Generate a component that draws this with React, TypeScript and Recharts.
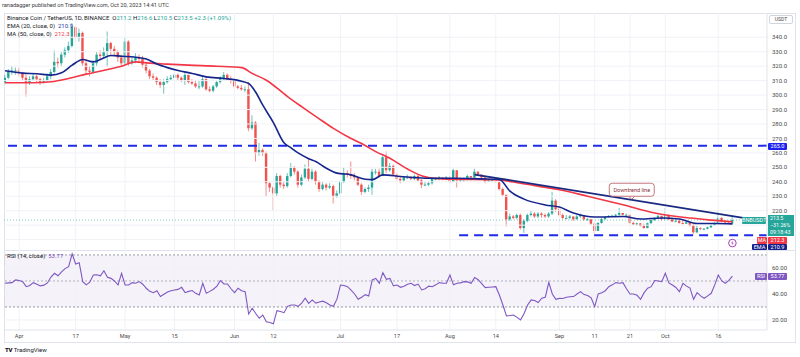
import React from 'react';
import {
  ComposedChart, Bar, Line, XAxis, YAxis, ReferenceLine, ReferenceArea, ReferenceDot,
} from 'recharts';

// ---------- DATA ----------
// daily candles, day 0 = Mar 28 2023 ... day 206 = Oct 20 2023
const firstOpen = 309;
const closes = [
  312, 316, 317, 317, 315, 312, 309, 311, 313, 311, 309, 310, 313, 316, 323, 322, 328, 331, 334, 347,
  340, 343, 322, 317, 316, 322, 328, 327, 330, 336, 332, 330, 326, 322, 337, 322, 324, 326, 325, 321,
  317, 313, 312, 309, 307, 309, 311, 312, 314, 312, 310, 314, 309, 308, 306, 306, 311, 304, 303, 306,
  309, 311, 314, 311, 310, 306, 305, 304, 304, 277, 281, 260, 262, 260, 239, 236, 232, 244, 238, 237,
  244, 250, 247, 238, 243, 249, 242, 247, 240, 235, 238, 236, 237, 230, 232, 240, 246, 245, 244, 243,
  238, 233, 235, 236, 247, 247, 244, 257, 248, 251, 245, 242, 241, 243, 243, 242, 244, 241, 238, 238,
  239, 242, 242, 243, 242, 243, 240, 248, 241, 242, 242, 244, 243, 247, 245, 243, 240, 241, 241, 240,
  235, 231, 214, 216, 215, 217, 208, 213, 217, 218, 216, 218, 217, 216, 218, 227, 221, 217, 215, 215,
  216, 214, 216, 217, 214, 214, 211, 206, 211.5, 214.2, 215.6, 216.1, 216.6, 217.2, 218.4, 217.2, 217.2, 211.5, 210.5, 211.2,
  209.5, 208, 211.3, 213.5, 215, 216.4, 214, 217, 214, 212.5, 213, 211.5, 211, 212, 209.7, 205, 208, 207.5, 207.5, 208.5,
  210, 211.3, 215, 212.5, 211.8, 211.2, 213.5,
];
const highs = [
  314, 318, 320, 319, 319, 316, 314, 313, 315, 314, 312, 312, 315, 318, 331, 326, 330, 333, 337, 350,
  348, 346, 344, 324, 320, 324, 330, 331, 333, 344, 337, 334, 331, 328, 340, 338, 327, 329, 328, 327,
  322, 318, 315, 313, 311, 311, 313, 314, 315, 315, 313, 316, 314, 311, 310, 310, 313, 313, 306, 307,
  310, 313, 316, 315, 313, 311, 307, 307, 306, 309, 286, 282, 267, 263, 261, 240, 237, 246, 245, 240,
  246, 253, 251, 248, 245, 252, 256, 249, 248, 241, 240, 239, 239, 238, 234, 241, 250, 248, 254, 246,
  243, 239, 236, 238, 249, 249, 249, 258, 261, 253, 252, 246, 244, 244, 245, 244, 245, 245, 242, 240,
  240, 243, 243, 244, 243, 244, 244, 249, 248, 243, 243, 245, 244, 249, 247, 245, 243, 242, 242, 242,
  240, 236, 231, 218, 217, 218, 218, 214, 218, 220, 219, 219, 219, 218, 219, 233, 228, 223, 218, 217,
  217, 216, 217, 218, 217, 215, 214, 212, 212, 215, 216, 217, 217.2, 217.8, 221.8, 218.4, 218, 217.2, 212.5, 211.8,
  211.5, 211, 211.8, 214, 215.6, 217, 216.6, 221.8, 217.5, 215, 215, 213.8, 213, 213, 212.6, 211, 209.5, 208.5, 208, 209,
  210.5, 212, 219.5, 215.5, 213.5, 213, 216.6,
];
const lows = [
  308, 311, 314, 314, 313, 310, 299, 307, 310, 309, 307, 308, 309, 311, 315, 319, 320, 326, 329, 333,
  337, 337, 320, 314, 313, 315, 320, 324, 325, 320, 328, 327, 323, 320, 321, 320, 321, 322, 323, 319,
  315, 311, 310, 307, 305, 301, 308, 310, 311, 310, 309, 307, 308, 307, 305, 304, 305, 303, 302, 302,
  305, 308, 310, 310, 308, 305, 304, 303, 302, 275, 276, 254, 258, 258, 230, 233, 220, 230, 236, 235,
  236, 243, 245, 236, 237, 242, 240, 241, 238, 233, 234, 234, 235, 225, 229, 231, 239, 243, 242, 241,
  237, 231, 232, 233, 231, 245, 243, 244, 246, 247, 244, 241, 239, 240, 242, 241, 241, 240, 235.6, 237,
  237, 238, 241, 241, 241, 241, 239, 240, 236, 240, 240, 241, 241, 242, 244, 242, 239, 240, 240, 239,
  234, 230, 209, 213, 214, 214, 207, 204.6, 212, 216, 215, 215, 215, 215, 215, 217, 219, 216, 214, 214,
  214, 213, 214, 215, 213, 213, 210, 204, 206, 211, 213.5, 215, 215.8, 216, 216.5, 216.8, 216.5, 211, 210, 209.5,
  209, 207.5, 207.8, 211, 213, 214.5, 213.5, 213.8, 213.5, 212, 212, 211, 210.5, 210.8, 209, 204, 204.5, 206.5, 206.5, 207,
  208, 209.5, 211, 212, 211, 210.8, 210.5,
];

// EMA(20) and MA(50) read as [day, value]
const emaPoints: [number, number][] = [
  [0, 316.8], [5, 315.2], [9, 314.8], [13, 313.8], [16, 315.4], [19, 320.7], [22, 324.6], [25, 323],
  [27, 324.6], [30, 327.4], [33, 326.9], [37, 326.2], [40, 325], [43, 321.5], [46, 319], [49, 317],
  [53, 315], [57, 312.6], [62, 311.5], [67, 309.6], [69, 308], [71, 302], [73, 293], [76, 281],
  [79, 267], [81, 263.5], [83, 260], [86, 256], [88, 254], [91, 249.4], [94, 246], [98, 244.8],
  [102, 241.8], [104, 241.5], [107, 244.8], [112, 243.7], [119, 242.5], [127, 242.5], [135, 242],
  [140, 241.6], [143, 233.5], [147, 228], [153, 224], [157, 222.5], [161, 218.4], [167, 215.6],
  [175, 216], [180, 214.2], [186, 214.9], [191, 214.2], [196, 211.1], [201, 211.1], [206, 210.9],
];
const maPoints: [number, number][] = [
  [0, 308.5], [8, 308.5], [13, 309.2], [18, 311.5], [23, 314.5], [29, 317.7], [33, 320], [37, 323],
  [40, 322.3], [46, 321.4], [52, 320.7], [60, 320], [67, 319], [70, 315], [74, 310.3], [80, 299],
  [84, 292], [89, 283.5], [93, 277], [98, 270], [101, 266.5], [105, 260.9], [109, 256.3], [114, 248.8],
  [119, 243.4], [124, 242], [127, 241.8], [139, 241.4], [146, 239], [151, 237], [157, 234.5],
  [165, 230], [175, 224.1], [184, 218.4], [194, 214.9], [200, 213.5], [206, 212.3],
];
// RSI(14), one value per day
const rsiValues = [
  48.2, 48.5, 48.7, 50.8, 50.4, 49.5, 45.6, 46.5, 48.7, 47.5, 46.2, 46.8, 48.5, 53, 55.9, 54, 57, 59.5, 61, 70.8,
  63, 64, 49.5, 47, 49, 54.6, 54.8, 54, 57.9, 52.8, 52, 50, 46.9, 55.9, 46.9, 46.9, 48.7, 48.2, 49.5, 47.5,
  44.4, 42, 41, 42.5, 38, 39.8, 41.5, 42.5, 43, 43.5, 45.1, 41, 42, 42.6, 40.5, 39.2, 48.2, 40.5, 42, 43.6,
  46, 50.3, 47.7, 47.7, 44, 41, 44.4, 42.5, 41.8, 24.6, 29, 25, 21.3, 23.8, 18.7, 18, 17, 27.2, 26.5, 25.6,
  30.5, 31.5, 31.5, 30.5, 33, 36.7, 32.8, 35.4, 33, 33.8, 34.5, 33.3, 31.5, 30.5, 36, 46.9, 46.5, 45.6, 43, 40,
  35.9, 37.5, 39.5, 38.4, 50.8, 52, 48.2, 56.4, 51.3, 52, 46.2, 46.9, 45.1, 46, 47.5, 48.2, 46.5, 47.6, 43.1, 44,
  46, 45.6, 47, 48.7, 48.2, 48.2, 54.6, 47, 48.2, 48.5, 49.5, 49.3, 48.2, 52.6, 51, 48, 44.9, 45.2, 45.4, 45.6,
  39.2, 31.5, 23.1, 23.5, 23.8, 22, 20, 25, 31.5, 35.4, 35, 33.4, 36.7, 37.5, 49, 40, 35.9, 36.6, 36.5, 37.5,
  37.9, 38, 40, 41.8, 39.5, 38.8, 37, 30.3, 40, 41, 42.5, 45.6, 47, 48.7, 48.2, 48.7, 44, 40, 40, 39,
  35.9, 41, 44.4, 45.6, 50.3, 50, 49.5, 55.9, 48.5, 46.9, 45, 41.8, 48.2, 46, 44.5, 35.9, 41, 38.5, 36.7, 38.5,
  40.5, 47, 54.6, 50, 48.2, 50.5, 53.77,
];

const priceTicks = [220, 230, 240, 250, 260, 270, 280, 290, 300, 310, 320, 330, 340];
const priceGrid = [200, 210, 220, 230, 240, 250, 260, 270, 280, 290, 300, 310, 320, 330, 340];
const rsiTicks = [20, 40, 60];
const timeTicks = [4, 20, 34, 48, 65, 76, 95, 111, 126, 139, 157, 167, 177, 187, 202];
const timeLabels = ['Apr', '17', 'May', '15', 'Jun', '12', 'Jul', '17', 'Aug', '14', 'Sep', '11', '21', 'Oct', '16'];

const resistance = 265;
const support = 203;
const supportStartDay = 128.6;
const trendStart = { day: 133, price: 245 };
const trendEnd = { day: 213, price: 213.5 };
const lastClose = 213.5;

// ---------- build rows ----------
const emaMap = new Map(emaPoints);
const maMap = new Map(maPoints);
const rows = closes.map((c, i) => {
  const open = i === 0 ? firstOpen : closes[i - 1];
  return {
    i,
    open,
    close: c,
    high: Math.max(highs[i], open, c),
    low: Math.min(lows[i], open, c),
    ema: emaMap.has(i) ? emaMap.get(i) : null,
    ma: maMap.has(i) ? maMap.get(i) : null,
    rsi: rsiValues[i],
  };
});

const X_DOMAIN: [number, number] = [-0.3, 215.8];
const FONT = 'Roboto, "Liberation Sans", sans-serif';
const GREEN = '#26a69a';
const RED = '#ef5350';
const NAVY = '#16258c';
const MA_RED = '#f23645';
const BLUE_DASH = '#1f2be6';
const PURPLE = '#7e57c2';
const GRID = '#f0f2f7';

const Candle = (props: any) => {
  const { x, y, width, height, payload } = props;
  if (!payload || x == null) return null;
  const { open, close, high, low } = payload;
  const top = Math.min(y, y + height);
  const h = Math.abs(height);
  const yOf = (v: number) => (high === low ? top : top + ((high - v) / (high - low)) * h);
  const up = close >= open;
  const color = up ? GREEN : RED;
  const cx = x + width / 2;
  const bTop = yOf(Math.max(open, close));
  const bBot = yOf(Math.min(open, close));
  return (
    <g>
      <line x1={cx} x2={cx} y1={top} y2={top + h} stroke={color} strokeWidth={0.9} strokeOpacity={0.75} />
      <rect x={cx - 1.2} y={bTop} width={2.4} height={Math.max(0.9, bBot - bTop)} fill={color} />
    </g>
  );
};

const TrendLabel = (props: any) => {
  const { cx, cy } = props;
  const w = 45, h = 13;
  return (
    <g>
      <path d={`M${cx - 3},${cy + h / 2} L${cx},${cy + h / 2 + 3} L${cx + 3},${cy + h / 2}`} fill="#fff" stroke="#b5565a" strokeWidth={0.8} />
      <rect x={cx - w / 2} y={cy - h / 2} width={w} height={h} rx={3} fill="#fff" stroke="#b5565a" strokeWidth={0.8} />
      <text x={cx} y={cy + 2} textAnchor="middle" fontSize={5.5} fill="#8a2e33" fontFamily={FONT}>Downtrend line</text>
    </g>
  );
};

const FlashIcon = (props: any) => {
  const { cx, cy } = props;
  return (
    <g>
      <circle cx={cx} cy={cy} r={3.8} fill="#fff" stroke="#9c27b0" strokeWidth={0.9} />
      <path d={`M${cx + 0.6},${cy - 2.4} L${cx - 1.2},${cy + 0.3} L${cx + 0.2},${cy + 0.3} L${cx - 0.6},${cy + 2.4} L${cx + 1.3},${cy - 0.4} L${cx - 0.1},${cy - 0.4} Z`} fill="#9c27b0" />
    </g>
  );
};

const tag = (left: number, top: number, width: number, height: number, bg: string, text: React.ReactNode, extra: React.CSSProperties = {}) => (
  <div style={{
    position: 'absolute', left, top, width, height, background: bg, color: '#fff', fontSize: 5.5,
    lineHeight: `${height}px`, textAlign: 'center', fontFamily: FONT, borderRadius: 1, ...extra,
  }}>{text}</div>
);

export default function App() {
  return (
    <div style={{ position: 'absolute', left: 0, top: 0, width: 800, height: 357, background: '#fff', overflow: 'hidden', fontFamily: FONT }}>
      {/* header */}
      <div style={{ position: 'absolute', left: 2, top: 2, fontSize: 5.6, color: '#3a3a3a', whiteSpace: 'nowrap' }}>
        ranadagger published on TradingView.com, Oct 20, 2023 14:41 UTC
      </div>

      {/* frame */}
      <div style={{ position: 'absolute', left: 4, top: 13, width: 792, height: 330, border: '1px solid #e0e3eb', boxSizing: 'border-box' }} />

      {/* main price pane */}
      <div style={{ position: 'absolute', left: 0, top: 13 }}>
        <ComposedChart width={800} height={237} data={rows} margin={{ top: 0, right: 0, bottom: 0, left: 4 }}>
          <XAxis dataKey="i" type="number" domain={X_DOMAIN} allowDataOverflow hide />
          <YAxis
            orientation="right" width={33} domain={[192.8, 356.8]} allowDataOverflow ticks={priceTicks}
            tickFormatter={(v: number) => v.toFixed(1)} tickSize={2} tickLine={false} tickMargin={3}
            axisLine={{ stroke: '#e0e3eb' }} tick={{ fontSize: 6, fill: '#4a4a4a', fontFamily: FONT }}
          />
          {priceGrid.map((p) => (
            <ReferenceLine key={'hg' + p} y={p} stroke={GRID} strokeWidth={1} />
          ))}
          {timeTicks.map((t) => (
            <ReferenceLine key={'vg' + t} x={t} stroke={GRID} strokeWidth={1} />
          ))}
          <ReferenceLine y={lastClose} stroke={GREEN} strokeOpacity={0.6} strokeDasharray="1 2" />
          <ReferenceLine y={resistance} stroke={BLUE_DASH} strokeWidth={2} strokeDasharray="9 6" />
          <ReferenceLine
            segment={[{ x: supportStartDay, y: support }, { x: X_DOMAIN[1], y: support }]}
            stroke={BLUE_DASH} strokeWidth={2} strokeDasharray="9 6"
          />
          <Bar dataKey={(d: any) => [d.low, d.high]} barSize={3} shape={<Candle />} isAnimationActive={false} />
          <Line dataKey="ma" stroke={MA_RED} strokeWidth={1.6} dot={false} connectNulls isAnimationActive={false} type="monotone" />
          <Line dataKey="ema" stroke={NAVY} strokeWidth={1.6} dot={false} connectNulls isAnimationActive={false} type="monotone" />
          <ReferenceLine
            segment={[{ x: trendStart.day, y: trendStart.price }, { x: trendEnd.day, y: trendEnd.price }]}
            stroke="#1a2a80" strokeWidth={1.8}
          />
          <ReferenceDot x={177.5} y={234.5} r={0} shape={<TrendLabel />} />
          <ReferenceDot x={206} y={197.6} r={0} shape={<FlashIcon />} />
        </ComposedChart>
      </div>

      {/* pane separator */}
      <div style={{ position: 'absolute', left: 4, top: 250, width: 792, height: 1, background: '#e0e3eb' }} />

      {/* RSI pane */}
      <div style={{ position: 'absolute', left: 0, top: 250 }}>
        <ComposedChart width={800} height={92} data={rows} margin={{ top: 0, right: 0, bottom: 0, left: 4 }}>
          <XAxis
            dataKey="i" type="number" domain={X_DOMAIN} allowDataOverflow ticks={timeTicks} height={12}
            tickFormatter={(v: number) => timeLabels[timeTicks.indexOf(v)] ?? ''} tickSize={0} tickMargin={4}
            axisLine={{ stroke: '#e0e3eb' }} tick={{ fontSize: 5.6, fill: '#4a4a4a', fontFamily: FONT }} interval={0}
          />
          <YAxis
            orientation="right" width={33} domain={[12.3, 73.8]} allowDataOverflow ticks={rsiTicks}
            tickFormatter={(v: number) => v.toFixed(2)} tickSize={2} tickLine={false} tickMargin={3}
            axisLine={{ stroke: '#e0e3eb' }} tick={{ fontSize: 6, fill: '#4a4a4a', fontFamily: FONT }}
          />
          {rsiTicks.map((p) => (
            <ReferenceLine key={'rg' + p} y={p} stroke={GRID} strokeWidth={1} />
          ))}
          {timeTicks.map((t) => (
            <ReferenceLine key={'rvg' + t} x={t} stroke={GRID} strokeWidth={1} />
          ))}
          <ReferenceArea y1={30} y2={70} fill={PURPLE} fillOpacity={0.08} stroke="none" />
          <ReferenceLine y={70} stroke="#9598a1" strokeDasharray="2 2" />
          <ReferenceLine y={50} stroke="#b0b3bb" strokeDasharray="2 2" />
          <ReferenceLine y={30} stroke="#9598a1" strokeDasharray="2 2" />
          <Line dataKey="rsi" stroke={PURPLE} strokeWidth={1.1} dot={false} isAnimationActive={false} type="linear" />
        </ComposedChart>
      </div>

      {/* legends */}
      <div style={{ position: 'absolute', left: 7, top: 14, fontSize: 6, color: '#131722', whiteSpace: 'nowrap', lineHeight: '7.8px' }}>
        <div>
          Binance Coin / TetherUS, 1D, BINANCE&nbsp;&nbsp;O<span style={{ color: GREEN }}>211.2</span>&nbsp;H<span style={{ color: GREEN }}>216.6</span>&nbsp;L<span style={{ color: GREEN }}>210.5</span>&nbsp;C<span style={{ color: GREEN }}>213.5</span>&nbsp;<span style={{ color: GREEN }}>+2.3 (+1.09%)</span>
        </div>
        <div>EMA (20, close, 0)&nbsp;&nbsp;<span style={{ color: '#2a3aa8' }}>210.9</span></div>
        <div>MA (50, close, 0)&nbsp;&nbsp;<span style={{ color: MA_RED }}>212.3</span></div>
      </div>
      <div style={{ position: 'absolute', left: 7, top: 252, fontSize: 6, color: '#131722', whiteSpace: 'nowrap' }}>
        RSI (14, close)&nbsp;&nbsp;<span style={{ color: PURPLE }}>53.77</span>
      </div>

      {/* right-axis tags */}
      <div style={{ position: 'absolute', left: 769, top: 15, width: 24, height: 9, border: '1px solid #d1d4dc', borderRadius: 2, boxSizing: 'border-box', fontSize: 5, lineHeight: '7px', textAlign: 'center', color: '#4a4a4a' }}>USDT</div>
      {tag(768, 142.5, 19, 7.5, '#1e22f0', '265.0')}
      {tag(742, 216.5, 24, 7, GREEN, 'BNBUSDT')}
      <div style={{ position: 'absolute', left: 768, top: 215, width: 26, height: 21, background: GREEN, color: '#fff', fontSize: 5.3, lineHeight: '7px', textAlign: 'left', paddingLeft: 2, boxSizing: 'border-box', fontFamily: FONT }}>
        <div>213.5</div><div>−31.26%</div><div>09:18:43</div>
      </div>
      {tag(757, 237, 10, 6.5, MA_RED, 'MA')}
      {tag(768, 237, 19, 6.5, MA_RED, '212.3')}
      {tag(752, 243.5, 15, 6.5, '#15208a', 'EMA')}
      {tag(768, 243.5, 19, 6.5, '#15208a', '210.9')}
      {tag(755, 272.5, 12, 7, PURPLE, 'RSI')}
      {tag(768, 272.5, 19, 7, PURPLE, '53.77')}

      {/* logo */}
      <div style={{ position: 'absolute', left: 5, top: 346, fontSize: 6, color: '#131722', whiteSpace: 'nowrap' }}>
        <span style={{ fontWeight: 900, letterSpacing: -0.3 }}>TV</span>&nbsp;TradingView
      </div>
    </div>
  );
}
